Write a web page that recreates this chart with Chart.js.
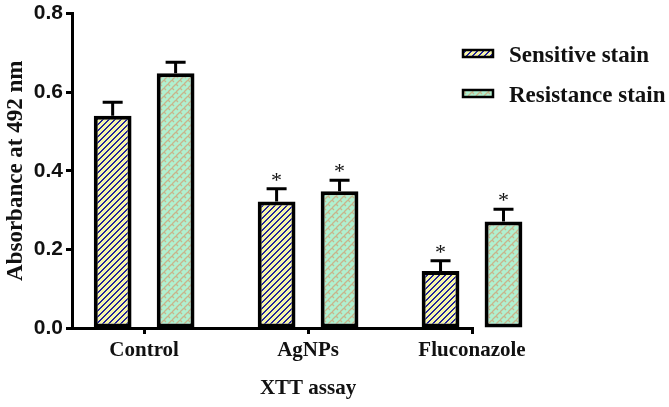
<!DOCTYPE html>
<html>
<head>
<meta charset="utf-8">
<script src="https://cdn.jsdelivr.net/npm/chart.js@4"></script>
<style>
  html, body { margin: 0; padding: 0; background: #fff; }
  #wrap { width: 669px; height: 407px; }
</style>
</head>
<body>
<div id="wrap"><canvas id="xttChart" width="669" height="407"></canvas></div>
<script>
// Data
const categories = ['Control', 'AgNPs', 'Fluconazole'];
const sensitive = [0.540, 0.322, 0.145];
const sensitiveErr = [0.034, 0.032, 0.026];
const resistant = [0.648, 0.348, 0.271];
const resistantErr = [0.028, 0.028, 0.031];
const sensitiveSig = [false, true, true];
const resistantSig = [false, true, true];
const yTicks = [0, 0.2, 0.4, 0.6, 0.8];
const seriesNames = ['Sensitive stain', 'Resistance stain'];

// Hatch patterns (pixel aligned so they stay crisp)
function stripePattern() {
    const c = document.createElement('canvas');
    const s = 6;
    c.width = s; c.height = s;
    const g = c.getContext('2d');
    g.fillStyle = '#f6f5a8';
    g.fillRect(0, 0, s, s);
    g.fillStyle = '#22229c';
    for (let y = 0; y < s; y++) {
        const x = (s - 1 - y + s) % s;
        g.fillRect(x, y, 1, 1);
        g.fillRect((x + 1) % s, y, 1, 1);
    }
    return g.createPattern(c, 'repeat');
}

function weavePattern() {
    const c = document.createElement('canvas');
    const s = 8;
    c.width = s; c.height = s;
    const g = c.getContext('2d');
    g.fillStyle = '#b0f0d0';
    g.fillRect(0, 0, s, s);
    g.strokeStyle = '#c8b48c';
    g.lineWidth = 1.3;
    g.beginPath();
    g.moveTo(0, 4); g.lineTo(4, 0);
    g.moveTo(4, 8); g.lineTo(8, 4);
    g.moveTo(4, 0); g.lineTo(6, 2);
    g.moveTo(0, 4); g.lineTo(2, 6);
    g.moveTo(4, 8); g.lineTo(5, 9);
    g.stroke();
    return g.createPattern(c, 'repeat');
}

const patterns = [stripePattern(), weavePattern()];
const errorSets = [sensitiveErr, resistantErr];
const sigSets = [sensitiveSig, resistantSig];

// error bars, asterisks, legend and x title
const decorations = {
    id: 'decorations',
    afterDatasetsDraw(chart) {
        const ctx = chart.ctx;
        const yScale = chart.scales.y;
        ctx.save();
        chart.data.datasets.forEach((ds, di) => {
            const meta = chart.getDatasetMeta(di);
            meta.data.forEach((bar, i) => {
                const value = ds.data[i].y;
                const top = yScale.getPixelForValue(value + errorSets[di][i]);
                ctx.strokeStyle = '#000';
                ctx.lineWidth = 3;
                ctx.beginPath();
                ctx.moveTo(bar.x, bar.y);
                ctx.lineTo(bar.x, top);
                ctx.moveTo(bar.x - 10, top);
                ctx.lineTo(bar.x + 10, top);
                ctx.stroke();
                if (sigSets[di][i]) {
                    ctx.fillStyle = '#111';
                    ctx.font = '22px "Liberation Serif"';
                    ctx.textAlign = 'center';
                    ctx.textBaseline = 'alphabetic';
                    ctx.fillText('*', bar.x, top - 2);
                }
            });
        });
        ctx.restore();
    },
    afterDraw(chart) {
        const ctx = chart.ctx;
        ctx.save();
        // legend
        const boxTops = [50, 90];
        seriesNames.forEach((name, i) => {
            ctx.fillStyle = patterns[i];
            ctx.fillRect(463, boxTops[i], 30, 7);
            ctx.strokeStyle = '#000';
            ctx.lineWidth = 2.5;
            ctx.strokeRect(463, boxTops[i], 30, 7);
            ctx.fillStyle = '#111';
            ctx.font = 'bold 23px "Liberation Serif"';
            ctx.textAlign = 'left';
            ctx.textBaseline = 'alphabetic';
            ctx.fillText(name, 509, boxTops[i] + 11.5);
        });
        // x axis title, centred under the middle group
        ctx.font = 'bold 21px "Liberation Serif"';
        ctx.textAlign = 'center';
        ctx.textBaseline = 'middle';
        ctx.fillText('XTT assay', chart.scales.x.getPixelForValue(1), 389);
        ctx.restore();
    }
};

const ctx = document.getElementById('xttChart').getContext('2d');

new Chart(ctx, {
    type: 'bar',
    data: {
        datasets: [
            {
                label: seriesNames[0],
                data: sensitive.map((v, i) => ({ x: i, y: v })),
                backgroundColor: patterns[0],
                borderColor: '#000',
                borderWidth: 4,
                borderSkipped: false,
                clip: false
            },
            {
                label: seriesNames[1],
                data: resistant.map((v, i) => ({ x: i, y: v })),
                backgroundColor: patterns[1],
                borderColor: '#000',
                borderWidth: 4,
                borderSkipped: false,
                clip: false
            }
        ]
    },
    options: {
        responsive: false,
        animation: false,
        categoryPercentage: 0.768,
        barPercentage: 0.6,
        layout: {
            padding: { top: 13, right: 196, bottom: 0, left: 0 }
        },
        plugins: {
            legend: { display: false },
            tooltip: { enabled: false }
        },
        scales: {
            x: {
                type: 'linear',
                min: -0.44,
                max: 2.006,
                offset: false,
                afterFit: (s) => { s.height = 79; },
                afterBuildTicks: (s) => { s.ticks = categories.map((_, i) => ({ value: i })); },
                grid: {
                    offset: false,
                    drawOnChartArea: false,
                    tickLength: 6,
                    tickWidth: 3,
                    tickColor: '#000'
                },
                border: { color: '#000', width: 3 },
                ticks: {
                    autoSkip: false,
                    maxRotation: 0,
                    padding: 4,
                    color: '#111',
                    font: { family: 'Liberation Serif', weight: 'bold', size: 21 },
                    callback: (v) => categories[v]
                }
            },
            y: {
                min: 0,
                max: 0.8,
                afterFit: (s) => { s.width = 72; },
                afterBuildTicks: (s) => { s.ticks = yTicks.map(v => ({ value: v })); },
                grid: {
                    drawOnChartArea: false,
                    tickLength: 6,
                    tickWidth: 3,
                    tickColor: '#000'
                },
                border: { color: '#000', width: 3 },
                ticks: {
                    padding: 3,
                    color: '#111',
                    font: { family: 'Liberation Sans', weight: 'bold', size: 21, lineHeight: 1 },
                    callback: (v) => v.toFixed(1)
                },
                title: {
                    display: true,
                    text: 'Absorbance at 492 nm',
                    color: '#111',
                    padding: { top: 2, bottom: 0 },
                    font: { family: 'Liberation Serif', weight: 'bold', size: 23 }
                }
            }
        }
    },
    plugins: [decorations]
});
</script>
</body>
</html>
